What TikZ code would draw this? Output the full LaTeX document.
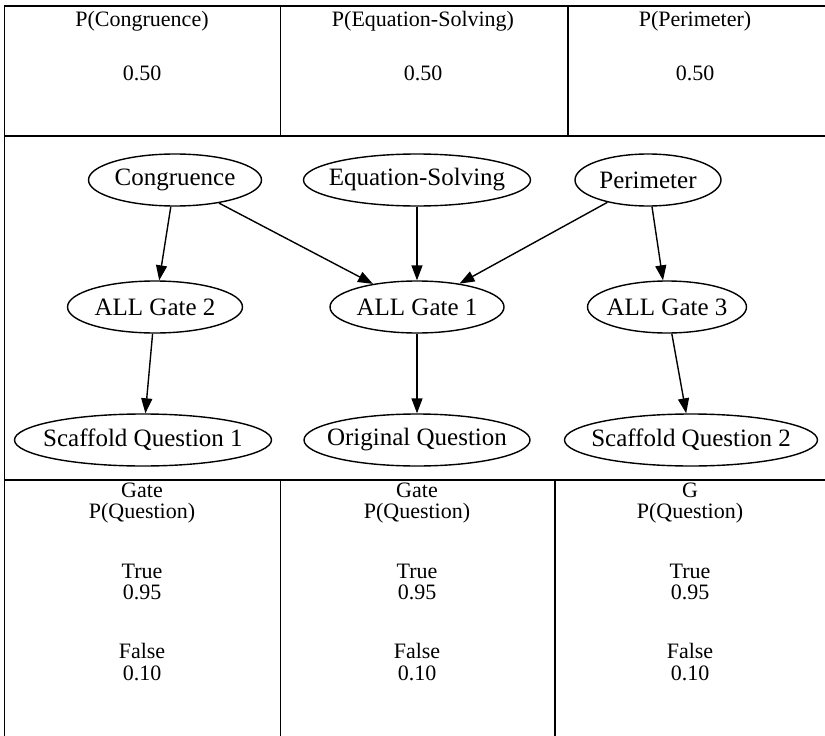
\documentclass[tikz,border=0pt]{standalone}
\usepackage{fontspec}
\setmainfont{Liberation Serif}
\usetikzlibrary{shapes.geometric,arrows.meta}
\newcommand\ztext[1]{\makebox[0pt]{#1}}
\begin{document}
\begin{tikzpicture}[x=1pt,y=-1pt,
  rule/.style={line width=1.4pt},
  cell/.style={font=\fontsize{22}{21.5}\selectfont, inner sep=0pt, align=center},
  var/.style={draw, ellipse, line width=1.4pt, minimum height=52pt, inner sep=0pt, font=\fontsize{25}{28}\selectfont},
  edge/.style={line width=1.4pt, -{Triangle[length=15pt,width=11pt]}}
]
\path[use as bounding box] (0,0) rectangle (825,736);
% table rules
\draw[rule] (4.5,736) -- (4.5,6) -- (825,6);
\draw[rule] (4.5,136) -- (825,136);
\draw[rule] (4.5,480) -- (825,480);
\draw[rule] (280.5,6) -- (280.5,136);
\draw[rule] (568,6) -- (568,136);
\draw[rule] (280.5,480) -- (280.5,736);
\draw[rule] (555,480) -- (555,736);
% top cells
\node[cell] (pc) at (142,21) {P(Congruence)};
\node[cell] (pcv) at (142,73) {0.50};
\node[cell] (pe) at (423,21) {P(Equation-Solving)};
\node[cell] (pev) at (423,73) {0.50};
\node[cell] (pp) at (695,21) {P(Perimeter)};
\node[cell] (ppv) at (695,73) {0.50};
% bottom cells
\foreach \nm/\x/\g in {a/142/Gate, b/417/Gate, c/690/G} {
  \node[cell] (\nm1) at (\x,503) {\g\\P(Question)};
  \node[cell] (\nm2) at (\x,582) {True\\0.95};
  \node[cell] (\nm3) at (\x,662) {False\\0.10};
}
% graph nodes
\node[var, minimum width=173pt] (cong) at (175,180) {\ztext{Congruence}};
\node[var, minimum width=227pt] (eq) at (417,180) {\ztext{Equation-Solving}};
\node[var, minimum width=146pt] (per) at (648,180) {\ztext{Perimeter}};
\node[var, minimum width=175pt] (g2) at (155,307) {\ztext{ALL Gate 2}};
\node[var, minimum width=174pt] (g1) at (417,307) {\ztext{ALL Gate 1}};
\node[var, minimum width=159pt] (g3) at (667,307) {\ztext{ALL Gate 3}};
\node[var, minimum width=257pt] (sq1) at (143,440) {\ztext{Scaffold Question 1}};
\node[var, minimum width=226pt] (oq) at (417,440) {\ztext{Original Question}};
\node[var, minimum width=253pt] (sq2) at (691,440) {\ztext{Scaffold Question 2}};
% edges
\draw[edge] (cong) -- (g2);
\draw[edge] (cong) -- (g1);
\draw[edge] (eq) -- (g1);
\draw[edge] (per) -- (g1);
\draw[edge] (per) -- (g3);
\draw[edge] (g2) -- (sq1);
\draw[edge] (g1) -- (oq);
\draw[edge] (g3) -- (sq2);
\end{tikzpicture}
\end{document}
